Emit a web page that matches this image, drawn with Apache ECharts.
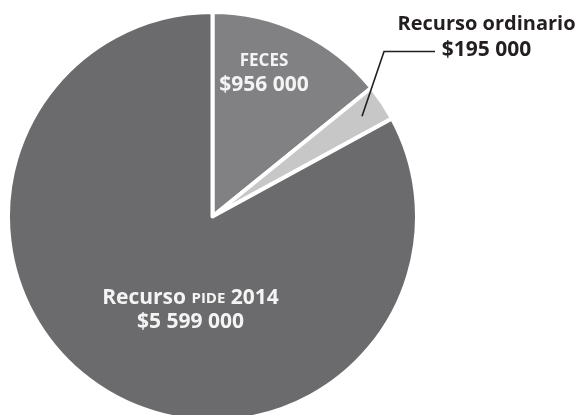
<!DOCTYPE html>
<html>
<head>
<meta charset="utf-8">
<script src="https://cdn.jsdelivr.net/npm/echarts@6/dist/echarts.min.js"></script>
<style>
  html, body { margin: 0; padding: 0; background: #ffffff; }
  #chart { width: 579px; height: 415px; }
</style>
</head>
<body>
<div id="chart"></div>
<script>
// Funding sources (pesos)
const categories = ['FECES', 'Recurso ordinario', 'Recurso PIDE 2014'];
const amounts = [956000, 195000, 5599000];
const sliceColors = ['#818184', '#c7c7c7', '#6b6b6d'];

function money(v) {
  return '$' + String(v).replace(/\B(?=(\d{3})+(?!\d))/g, ' ');
}

const CX = 212.5, CY = 216.5, R = 204.5;

// Label anchor points (block centres) for each slice
const labelSpots = [
  { x: 264, y: 73 },
  { x: 486.5, y: 37 },
  { x: 190.5, y: 310.5 }
];

// Leader line for the small slice: start inside it at its mid angle
const total = amounts.reduce(function (a, b) { return a + b; }, 0);
const midFrac = (amounts[0] + amounts[1] / 2) / total;      // fraction, clockwise from 12 o'clock
const midRad = midFrac * 2 * Math.PI;
const leadR = R * 0.88;
const leadStart = [CX + leadR * Math.sin(midRad), CY - leadR * Math.cos(midRad)];
const leadY = 51.5;
const leadElbow = [leadStart[0] + 22, leadY];
const leadEnd = [435, leadY];

const chart = echarts.init(document.getElementById('chart'), null, { renderer: 'canvas' });

const font = '"Open Sans", "Noto Sans", sans-serif';

chart.setOption({
  animation: false,
  backgroundColor: '#ffffff',
  series: [{
    type: 'pie',
    center: [CX, CY],
    radius: R,
    startAngle: 90,
    clockwise: true,
    avoidLabelOverlap: false,
    itemStyle: { borderColor: '#ffffff', borderWidth: 4 },
    label: {
      show: true,
      position: 'inside',
      fontFamily: font,
      fontWeight: 'bold',
      formatter: function (p) {
        if (p.dataIndex === 0) {
          return '{s|' + categories[0] + '}\n{b|' + money(p.value) + '}';
        }
        if (p.dataIndex === 1) {
          return '{d|' + categories[1] + '}\n{db|' + money(p.value) + '}';
        }
        const parts = categories[2].split(' ');
        return '{b|' + parts[0] + ' }{sc|' + parts[1] + '}{b| ' + parts[2] + '}\n{b|' + money(p.value) + '}';
      },
      rich: {
        s:  { fontFamily: font, fontWeight: 'bold', fontSize: 17, color: '#f4f4f4', lineHeight: 23.5 },
        b:  { fontFamily: font, fontWeight: 'bold', fontSize: 21, color: '#f4f4f4', lineHeight: 24 },
        sc: { fontFamily: font, fontWeight: 'bold', fontSize: 15, color: '#f4f4f4', lineHeight: 24 },
        d:  { fontFamily: font, fontWeight: 'bold', fontSize: 20, color: '#231f20', lineHeight: 25.5 },
        db: { fontFamily: font, fontWeight: 'bold', fontSize: 21, color: '#231f20', lineHeight: 25.5 }
      }
    },
    labelLine: { show: false },
    labelLayout: function (params) {
      const p = labelSpots[params.dataIndex];
      return { x: p.x, y: p.y, align: 'center', verticalAlign: 'middle' };
    },
    emphasis: { disabled: true },
    data: categories.map(function (name, i) {
      return { name: name, value: amounts[i], itemStyle: { color: sliceColors[i] } };
    })
  }],
  graphic: [{
    type: 'polyline',
    shape: { points: [leadStart, leadElbow, leadEnd] },
    style: { stroke: '#231f20', lineWidth: 1.6, fill: null },
    z: 100
  }]
});
</script>
</body>
</html>
